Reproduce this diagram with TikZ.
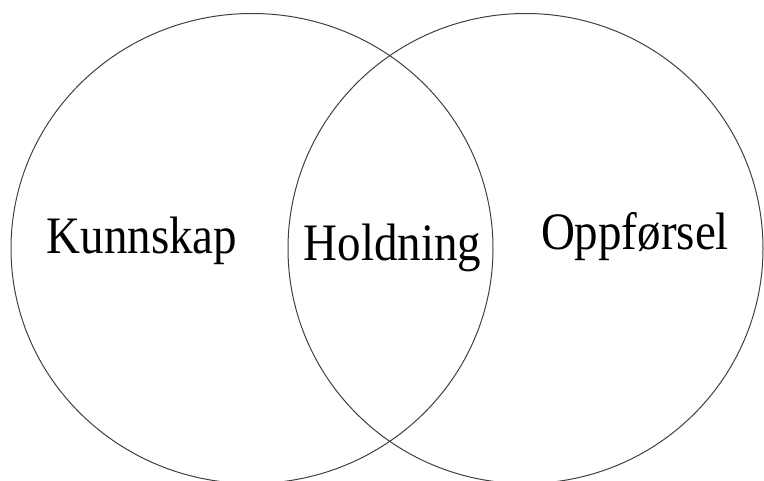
\documentclass[tikz,border=0pt]{standalone}
\usepackage{fontspec}
\setmainfont{Liberation Serif}
\begin{document}
\begin{tikzpicture}[x=1pt,y=-1pt,
  ring/.style={draw=black!75, line width=1pt},
  lbl/.style={inner sep=0pt, anchor=base, font=\fontsize{47}{50}\selectfont}]
\useasboundingbox (0,0) rectangle (764,481);
\draw[ring] (252,248.5) ellipse [x radius=241, y radius=235];
\draw[ring] (525.5,248.5) ellipse [x radius=237.5, y radius=235];
\node[lbl] (k) at (142,254) {\scalebox{1}[1.12]{Kunnskap}};
\node[lbl] (h) at (392.5,261) {\scalebox{1}[1.12]{Holdning}};
\node[lbl] (o) at (635,250) {\scalebox{1}[1.12]{Oppførsel}};
\end{tikzpicture}
\end{document}
